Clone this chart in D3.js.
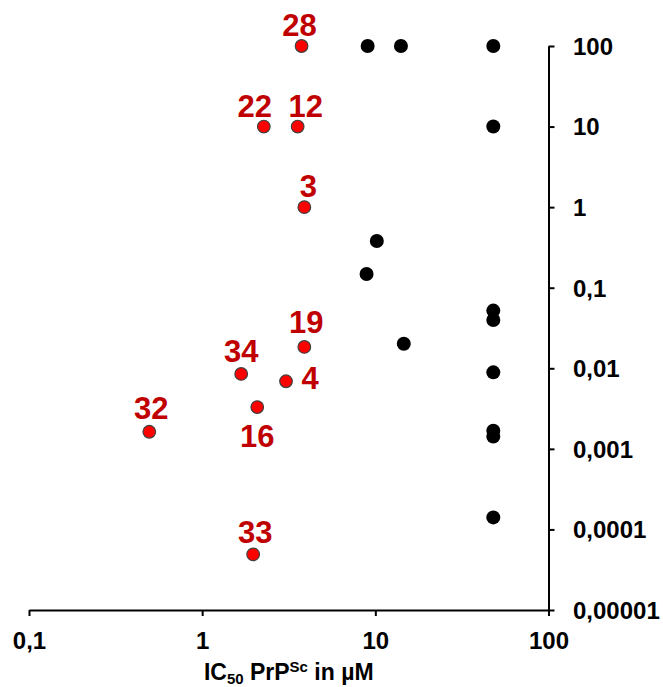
<!DOCTYPE html>
<html>
<head>
<meta charset="utf-8">
<script src="https://cdn.jsdelivr.net/npm/d3@7"></script>
<style>
    body { margin: 0; background: #fff; }
    svg { display: block; font-family: "Liberation Sans", Arial, sans-serif; font-weight: bold; }
    .axis path, .axis line { stroke: #000; stroke-width: 2; }
    .axis text { font-size: 24px; font-weight: bold; fill: #000; }
</style>
</head>
<body>
<svg id="chart" width="663" height="687"></svg>
<script>
// Tick values on both log axes
const xTicks = [0.1, 1, 10, 100];
const yTicks = [0.00001, 0.0001, 0.001, 0.01, 0.1, 1, 10, 100];

// Labelled compounds (red)
const redLabels = ['28', '22', '12', '3', '19', '34', '4', '16', '32', '33'];
const redX = [3.75, 2.27, 3.56, 3.89, 3.89, 1.68, 3.05, 2.08, 0.495, 1.97];
const redY = [100, 10, 10, 1, 0.0184, 0.0085, 0.0069, 0.0033, 0.00163, 0.000049];

// Other compounds (black)
const blackX = [9.03, 14.06, 48, 48, 10.2, 8.9, 48, 48, 14.6, 48, 48, 48, 48];
const blackY = [100, 100, 100, 10, 0.38, 0.148, 0.052, 0.0397, 0.0202, 0.0089, 0.00168, 0.00142, 0.000141];

// where each number sits relative to its dot
const labelOffsets = {
    '28': [-2, -10], '22': [-9, -10], '12': [8, -10], '3': [4, -10],
    '19': [2, -14], '34': [0, -12], '4': [24, 8], '16': [0, 40],
    '32': [2, -13], '33': [2, -11]
};

const svg = d3.select('#chart');

const x = d3.scaleLog().domain([0.1, 100]).range([29, 548.5]);
const y = d3.scaleLog().domain([0.00001, 100]).range([610, 46]);

const fmt = d => String(d).replace('.', ',');

// x axis
const gx = svg.append('g')
    .attr('class', 'axis')
    .attr('transform', `translate(0,${y(0.00001)})`)
    .call(d3.axisBottom(x).tickValues(xTicks).tickSize(6).tickSizeOuter(0).tickFormat(fmt));
gx.selectAll('text').attr('y', 39).attr('dy', 0);

// y axis on the right
const gy = svg.append('g')
    .attr('class', 'axis')
    .attr('transform', `translate(${x(100)},0)`)
    .call(d3.axisRight(y).tickValues(yTicks).tickSize(6).tickSizeOuter(0).tickFormat(fmt));
gy.selectAll('text').attr('x', 24.5).attr('dy', '0.35em').attr('text-anchor', 'start');

// axis title
const title = svg.append('text')
    .attr('x', (x(0.1) + x(100)) / 2)
    .attr('y', 680)
    .attr('text-anchor', 'middle')
    .style('font-size', '23px')
    .attr('fill', '#000');
title.append('tspan').text('IC');
title.append('tspan').attr('dy', 4).style('font-size', '15px').text('50');
title.append('tspan').attr('dy', -4).text(' PrP');
title.append('tspan').attr('dy', -8).style('font-size', '15px').text('Sc');
title.append('tspan').attr('dy', 8).text(' in µM');

// black points
svg.selectAll('circle.black')
    .data(blackX.map((v, i) => ({ x: v, y: blackY[i] })))
    .enter()
    .append('circle')
    .attr('class', 'black')
    .attr('cx', d => x(d.x))
    .attr('cy', d => y(d.y))
    .attr('r', 7)
    .attr('fill', '#000');

const red = redLabels.map((l, i) => ({ label: l, x: redX[i], y: redY[i] }));

// red points
svg.selectAll('circle.red')
    .data(red)
    .enter()
    .append('circle')
    .attr('class', 'red')
    .attr('cx', d => x(d.x))
    .attr('cy', d => y(d.y))
    .attr('r', 6.3)
    .attr('fill', '#ff0000')
    .attr('stroke', '#404040')
    .attr('stroke-width', 1.2);

// compound numbers
svg.selectAll('text.lbl')
    .data(red)
    .enter()
    .append('text')
    .attr('class', 'lbl')
    .attr('x', d => x(d.x) + labelOffsets[d.label][0])
    .attr('y', d => y(d.y) + labelOffsets[d.label][1])
    .attr('text-anchor', 'middle')
    .style('font-size', '31px')
    .attr('fill', '#c00000')
    .text(d => d.label);
</script>
</body>
</html>
